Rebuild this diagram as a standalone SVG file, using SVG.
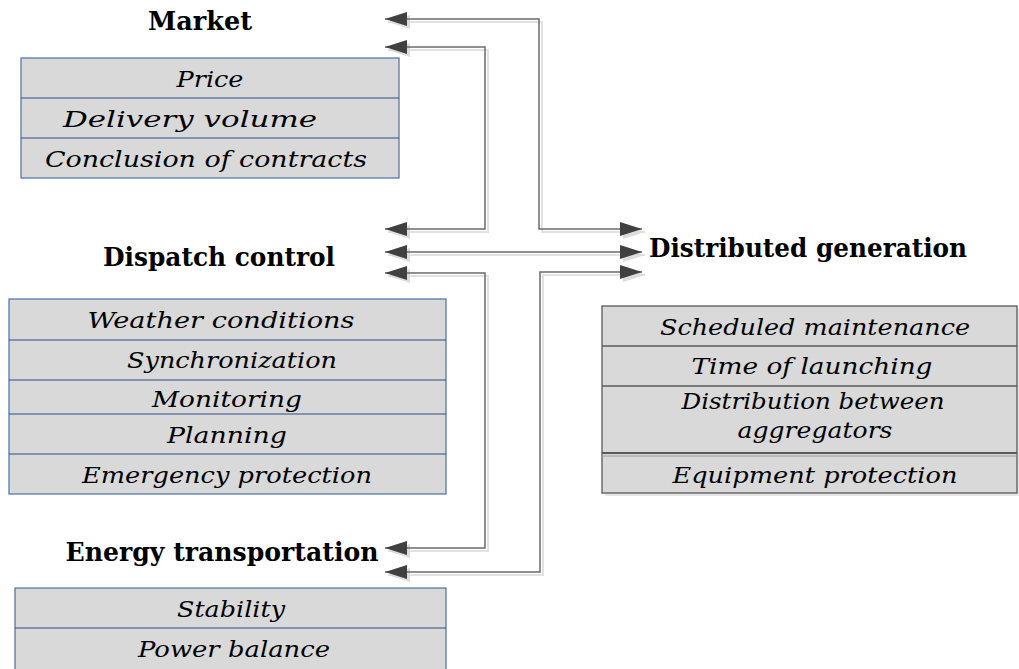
<svg xmlns="http://www.w3.org/2000/svg" width="1019" height="669" viewBox="0 0 1019 669">
<style>
.hdr{font-family:"DejaVu Serif","Liberation Serif",serif;font-weight:bold;font-size:26px;fill:#000;text-anchor:middle}
.itm{font-family:"DejaVu Serif","Liberation Serif",serif;font-style:italic;font-size:23px;fill:#000;text-anchor:middle}
.boxL{fill:#d9d9d9;stroke:#4a6fa5;stroke-width:1.2}
.divL{stroke:#2b4f8a;stroke-width:1.2}
.boxR{fill:#d9d9d9;stroke:#595959;stroke-width:1.3}
.divR{stroke:#595959;stroke-width:1.3}
.conn{fill:none;stroke:#6b6b6b;stroke-width:1.5;marker-start:url(#ah);marker-end:url(#ah)}
.shad{fill:none;stroke:#e2e2e2;stroke-width:2;marker-start:url(#ahs);marker-end:url(#ahs)}
</style>
<defs>
<marker id="ah" markerUnits="userSpaceOnUse" markerWidth="23" markerHeight="15" refX="22" refY="7" orient="auto-start-reverse" viewBox="0 0 23 15">
<path d="M0,0 L22,7 L0,14 z" fill="#404040"/>
</marker>
<marker id="ahs" markerUnits="userSpaceOnUse" markerWidth="23" markerHeight="15" refX="22" refY="7" orient="auto-start-reverse" viewBox="0 0 23 15">
<path d="M0,0 L22,7 L0,14 z" fill="#dcdcdc"/>
</marker>
</defs>
<rect width="1019" height="669" fill="#fff"/>

<g id="connectors">
<g transform="translate(3,3)">
<path class="shad" d="M385,19 H539 V229 H642"/>
<path class="shad" d="M385,47 H485 V229 H385"/>
<path class="shad" d="M385,252 H642"/>
<path class="shad" d="M385,273 H485 V548 H385"/>
<path class="shad" d="M642,272 H540 V572 H385"/>
</g>
<path class="conn" d="M385,19 H539 V229 H642"/>
<path class="conn" d="M385,47 H485 V229 H385"/>
<path class="conn" d="M385,252 H642"/>
<path class="conn" d="M385,273 H485 V548 H385"/>
<path class="conn" d="M642,272 H540 V572 H385"/>
</g>

<g id="market">
<text class="hdr" x="200" y="30" textLength="104" lengthAdjust="spacingAndGlyphs">Market</text>
<rect class="boxL" x="21" y="58" width="378" height="120"/>
<line class="divL" x1="21" y1="98" x2="399" y2="98"/>
<line class="divL" x1="21" y1="138" x2="399" y2="138"/>
<text class="itm" x="210" y="87" textLength="67" lengthAdjust="spacingAndGlyphs">Price</text>
<text class="itm" x="190" y="127" textLength="254" lengthAdjust="spacingAndGlyphs">Delivery volume</text>
<text class="itm" x="206" y="167" textLength="322" lengthAdjust="spacingAndGlyphs">Conclusion of contracts</text>
</g>

<g id="dispatch">
<text class="hdr" x="219" y="266" textLength="232" lengthAdjust="spacingAndGlyphs">Dispatch control</text>
<rect class="boxL" x="9" y="299" width="437" height="195"/>
<line class="divL" x1="9" y1="340" x2="446" y2="340"/>
<line class="divL" x1="9" y1="380" x2="446" y2="380"/>
<line class="divL" x1="9" y1="414" x2="446" y2="414"/>
<line class="divL" x1="9" y1="454" x2="446" y2="454"/>
<text class="itm" x="221" y="328" textLength="267" lengthAdjust="spacingAndGlyphs">Weather conditions</text>
<text class="itm" x="232" y="368" textLength="210" lengthAdjust="spacingAndGlyphs">Synchronization</text>
<text class="itm" x="227" y="407" textLength="150" lengthAdjust="spacingAndGlyphs">Monitoring</text>
<text class="itm" x="227" y="443" textLength="120" lengthAdjust="spacingAndGlyphs">Planning</text>
<text class="itm" x="227" y="483" textLength="290" lengthAdjust="spacingAndGlyphs">Emergency protection</text>
</g>

<g id="energy">
<text class="hdr" x="222" y="561" textLength="313" lengthAdjust="spacingAndGlyphs">Energy transportation</text>
<rect class="boxL" x="15" y="588" width="431" height="90"/>
<line class="divL" x1="15" y1="628" x2="446" y2="628"/>
<text class="itm" x="231" y="617" textLength="108" lengthAdjust="spacingAndGlyphs">Stability</text>
<text class="itm" x="234" y="657" textLength="192" lengthAdjust="spacingAndGlyphs">Power balance</text>
</g>

<g id="distributed">
<text class="hdr" x="808" y="257" textLength="318" lengthAdjust="spacingAndGlyphs">Distributed generation</text>
<rect x="605" y="309" width="415" height="187" fill="#e6e6e6"/>
<rect class="boxR" x="602" y="306" width="415" height="187"/>
<line class="divR" x1="602" y1="346" x2="1017" y2="346"/>
<line class="divR" x1="602" y1="386" x2="1017" y2="386"/>
<line x1="602" y1="453" x2="1017" y2="453" stroke="#595959" stroke-width="2"/>
<line x1="602" y1="456" x2="1017" y2="456" stroke="#9a9a9a" stroke-width="1"/>
<text class="itm" x="815" y="335" textLength="310" lengthAdjust="spacingAndGlyphs">Scheduled maintenance</text>
<text class="itm" x="812" y="374" textLength="241" lengthAdjust="spacingAndGlyphs">Time of launching</text>
<text class="itm" x="813" y="409" textLength="263" lengthAdjust="spacingAndGlyphs">Distribution between</text>
<text class="itm" x="815" y="438" textLength="155" lengthAdjust="spacingAndGlyphs">aggregators</text>
<text class="itm" x="815" y="483" textLength="285" lengthAdjust="spacingAndGlyphs">Equipment protection</text>
</g>
</svg>
